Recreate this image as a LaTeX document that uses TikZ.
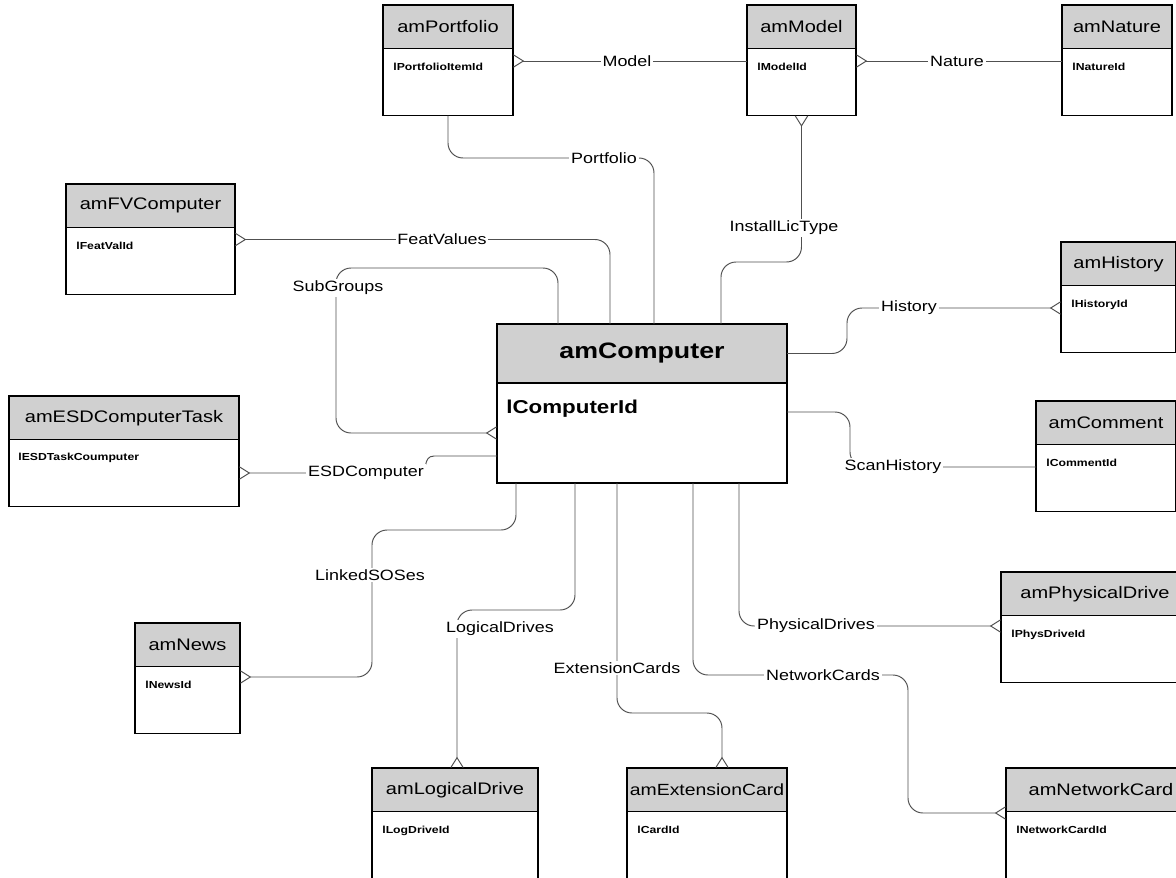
\documentclass[tikz,border=0pt]{standalone}
\usepackage{fontspec}
\setmainfont{Liberation Sans}[FakeStretch=1.2]
\usepackage{tikz}
\usetikzlibrary{arrows.meta,positioning,calc}
\definecolor{hdrgray}{HTML}{D0D0D0}
\definecolor{linegray}{HTML}{505050}

\begin{document}
\begin{tikzpicture}[
    hdr/.style={draw, fill=hdrgray, anchor=north west, outer sep=0pt, inner xsep=1pt, line width=0.7pt, minimum height=0.87cm, font=\fontsize{9.5pt}{11pt}\selectfont},
    tbl/.style={draw, fill=white, anchor=north west, outer sep=0pt, line width=0.7pt, minimum height=1.34cm},
    fld/.style={anchor=base west, inner sep=0pt, font=\fontsize{5.8pt}{7pt}\selectfont\bfseries},
    rel/.style={draw=linegray, line width=0.55pt, rounded corners=0.3cm},
    label/.style={fill=white, inner sep=1pt, font=\fontsize{8.5pt}{10pt}\selectfont},
    crow/.tip={Straight Barb[reversed, length=5.6pt, width=7pt]}
]

\useasboundingbox (0,0) rectangle (23.52,-17.54);
\clip (0,0) rectangle (23.52,-17.54);

\node[hdr, minimum width=2.6cm] (portfolio) at (7.66,-0.1) {amPortfolio};
\node[tbl, minimum width=2.6cm] (portfolio-b) at (portfolio.south west) {};
\node[fld] (portfolio-f) at ([shift={(0.2,-0.44)}]portfolio-b.north west) {lPortfolioItemId};

\node[hdr, minimum width=2.18cm, line width=1pt] (model) at (14.94,-0.1) {amModel};
\node[tbl, minimum width=2.18cm, line width=1pt] (model-b) at (model.south west) {};
\node[fld] (model-f) at ([shift={(0.2,-0.44)}]model-b.north west) {lModelId};

\node[hdr, minimum width=2.2cm] (nature) at (21.24,-0.1) {amNature};
\node[tbl, minimum width=2.2cm] (nature-b) at (nature.south west) {};
\node[fld] (nature-f) at ([shift={(0.2,-0.44)}]nature-b.north west) {lNatureId};

\node[hdr, minimum width=3.38cm] (fvcomputer) at (1.32,-3.68) {amFVComputer};
\node[tbl, minimum width=3.38cm] (fvcomputer-b) at (fvcomputer.south west) {};
\node[fld] (fvcomputer-f) at ([shift={(0.2,-0.44)}]fvcomputer-b.north west) {lFeatValId};

\node[hdr, minimum width=2.3cm] (history) at (21.22,-4.84) {amHistory};
\node[tbl, minimum width=2.3cm] (history-b) at (history.south west) {};
\node[fld] (history-f) at ([shift={(0.2,-0.44)}]history-b.north west) {lHistoryId};

\node[hdr, minimum width=2.8cm] (comment) at (20.72,-8.02) {amComment};
\node[tbl, minimum width=2.8cm] (comment-b) at (comment.south west) {};
\node[fld] (comment-f) at ([shift={(0.2,-0.44)}]comment-b.north west) {lCommentId};

\node[hdr, minimum width=4.6cm] (esdtask) at (0.18,-7.92) {amESDComputerTask};
\node[tbl, minimum width=4.6cm] (esdtask-b) at (esdtask.south west) {};
\node[fld] (esdtask-f) at ([shift={(0.18,-0.42)}]esdtask-b.north west) {lESDTaskCoumputer};

\node[hdr, minimum width=5.8cm, minimum height=1.18cm, line width=1.4pt, font=\fontsize{12.7pt}{14pt}\selectfont\bfseries] (computer) at (9.94,-6.48) {amComputer};
\node[tbl, minimum width=5.8cm, minimum height=2cm, line width=1.4pt] (computer-b) at (computer.south west) {};
\node[fld, font=\fontsize{10.6pt}{12pt}\selectfont\bfseries] (computer-f) at ([shift={(0.18,-0.6)}]computer-b.north west) {lComputerId};

\node[hdr, minimum width=3.76cm] (physdrive) at (20.02,-11.44) {amPhysicalDrive};
\node[tbl, minimum width=3.76cm] (physdrive-b) at (physdrive.south west) {};
\node[fld] (physdrive-f) at ([shift={(0.2,-0.44)}]physdrive-b.north west) {lPhysDriveId};

\node[hdr, minimum width=2.1cm] (news) at (2.7,-12.46) {amNews};
\node[tbl, minimum width=2.1cm] (news-b) at (news.south west) {};
\node[fld] (news-f) at ([shift={(0.2,-0.44)}]news-b.north west) {lNewsId};

\node[hdr, minimum width=3.32cm] (logdrive) at (7.44,-15.36) {amLogicalDrive};
\node[tbl, minimum width=3.32cm, minimum height=1.6cm] (logdrive-b) at (logdrive.south west) {};
\node[fld] (logdrive-f) at ([shift={(0.2,-0.44)}]logdrive-b.north west) {lLogDriveId};

\node[hdr, minimum width=3.2cm, font=\fontsize{9.2pt}{11pt}\selectfont] (extcard) at (12.54,-15.36) {amExtensionCard};
\node[tbl, minimum width=3.2cm, minimum height=1.6cm] (extcard-b) at (extcard.south west) {};
\node[fld] (extcard-f) at ([shift={(0.2,-0.44)}]extcard-b.north west) {lCardId};

\node[hdr, minimum width=3.8cm] (netcard) at (20.12,-15.36) {amNetworkCard};
\node[tbl, minimum width=3.8cm, minimum height=1.6cm] (netcard-b) at (netcard.south west) {};
\node[fld] (netcard-f) at ([shift={(0.2,-0.44)}]netcard-b.north west) {lNetworkCardId};

\draw[rel, crow-] ([yshift=-0.25cm]portfolio-b.north east) -- ([yshift=-0.25cm]model-b.north west);
\draw[rel, crow-] ([yshift=-0.25cm]model-b.north east) -- ([yshift=-0.25cm]nature-b.north west);
\draw[rel] (portfolio-b.south) |- (13.08,-3.16) -- (computer.north -| 13.08,0);
\draw[rel, crow-] (model-b.south) |- (14.42,-5.24) -- (computer.north -| 14.42,0);
\draw[rel, crow-] ([yshift=-0.24cm]fvcomputer-b.north east) -| (computer.north -| 12.2,0);
\draw[rel, -crow] (computer.north -| 11.16,0) |- (6.72,-5.36) |- (computer-b.west |- 0,-8.66);
\draw[rel, sharp corners, crow-] ([yshift=-0.67cm]esdtask-b.north east) -- (8.36,-9.46) .. controls (8.58,-9.46) and (8.44,-9.12) .. (8.68,-9.12) -- (computer-b.west |- 0,-9.12);
\draw[rel, -crow] (computer.east) -| (16.94,-6.16) -- (history-b.west |- 0,-6.16);
\draw[rel] (computer-b.east |- 0,-8.24) -| (17.0,-9.34) -- (comment-b.west |- 0,-9.34);
\draw[rel, -crow] (computer-b.south -| 10.32,0) |- (7.44,-10.6) |- (news-b.east |- 0,-13.54);
\draw[rel, -crow] (computer-b.south -| 11.5,0) |- (9.14,-12.2) -- (logdrive.north -| 9.14,0);
\draw[rel, -crow] (computer-b.south -| 12.34,0) |- (14.44,-14.26) -- (extcard.north -| 14.44,0);
\draw[rel, -crow] (computer-b.south -| 13.86,0) |- (18.16,-13.5) |- (netcard-b.west |- 0,-16.26);
\draw[rel, -crow] (computer-b.south -| 14.78,0) |- (physdrive-b.west |- 0,-12.52);

\node[label] (l-model) at (12.54,-1.22) {Model};
\node[label] (l-nature) at (19.14,-1.22) {Nature};
\node[label] (l-portfolio) at (12.08,-3.16) {Portfolio};
\node[label] (l-install) at (15.68,-4.56) {InstallLicType};
\node[label] (l-feat) at (8.84,-4.78) {FeatValues};
\node[label] (l-sub) at (6.76,-5.76) {SubGroups};
\node[label] (l-esd) at (7.32,-9.46) {ESDComputer};
\node[label] (l-history) at (18.18,-6.16) {History};
\node[label] (l-scan) at (17.86,-9.34) {ScanHistory};
\node[label] (l-linked) at (7.4,-11.5) {LinkedSOSes};
\node[label] (l-logical) at (10.0,-12.58) {LogicalDrives};
\node[label] (l-ext) at (12.34,-13.36) {ExtensionCards};
\node[label] (l-network) at (16.46,-13.5) {NetworkCards};
\node[label] (l-physical) at (16.32,-12.52) {PhysicalDrives};

\end{tikzpicture}
\end{document}
